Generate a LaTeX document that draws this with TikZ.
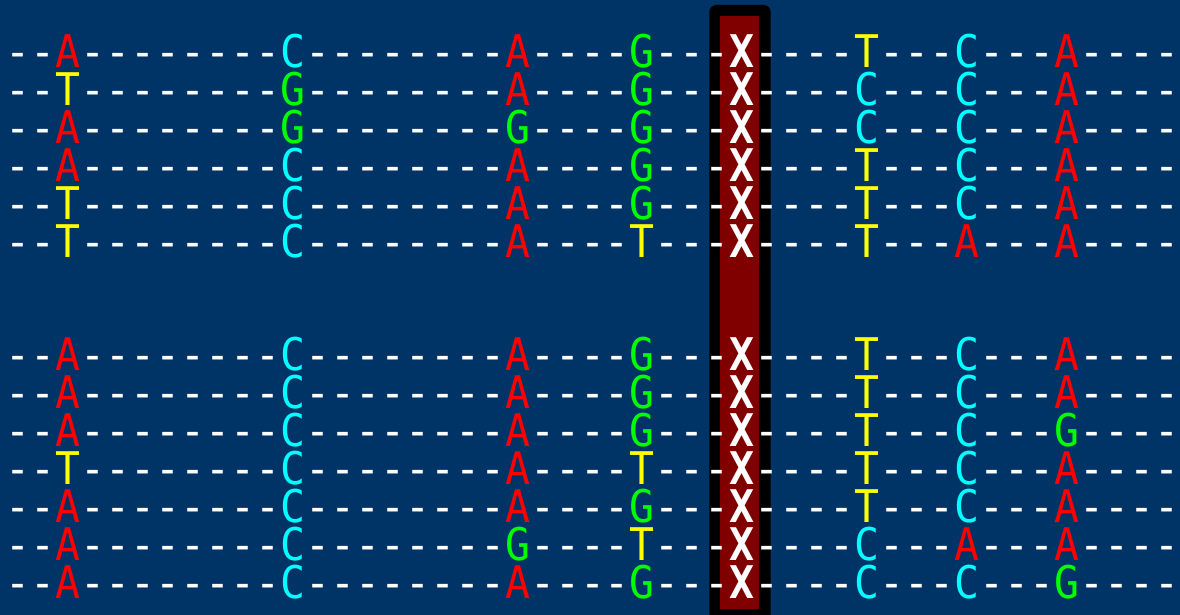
\documentclass[tikz,border=0pt]{standalone}
\usepackage{fontspec}
\newfontfamily\seqfont[FakeStretch=0.922,BoldFont={DejaVu Sans Mono Bold}]{DejaVu Sans Mono}
\definecolor{bgblue}{HTML}{003366}
\definecolor{barred}{HTML}{800000}
\definecolor{nucA}{HTML}{FF0000}
\definecolor{nucC}{HTML}{00FFFF}
\definecolor{nucG}{HTML}{00FF00}
\definecolor{nucT}{HTML}{FFFF00}
\newcommand\dsh{\mbox{-}}
\newcommand\dII{\dsh\dsh}
\newcommand\dIII{\dsh\dsh\dsh}
\newcommand\dIV{\dII\dII}
\newcommand\dVIII{\dIV\dIV}
\newcommand\nuc[1]{\textcolor{nuc#1}{#1}}
\newcommand\seqrow[7]{\dII\nuc{#1}\dVIII\nuc{#2}\dVIII\nuc{#3}\dIV\nuc{#4}\dIII{\bfseries X}\dIV\nuc{#5}\dIII\nuc{#6}\dIII\nuc{#7}\dIV}
\tikzset{
  seqline/.style={anchor=base west, inner sep=0pt, outer sep=0pt, text=white,
    font=\fontsize{45}{45}\selectfont\seqfont},
  barframe/.style={fill=black, rounded corners=7pt},
  barfill/.style={fill=barred}
}
\begin{document}
\begin{tikzpicture}[x=1pt,y=1pt]
\useasboundingbox (0,0) rectangle (1180,615);
\clip (0,0) rectangle (1180,615);
\fill[bgblue] (0,0) rectangle (1180,615);
\fill[barframe] (709.3,-12) rectangle (770.7,610);
\fill[barfill] (720,5.7) rectangle (759.3,599);
\def\rowy#1{615-67.6-37.91*#1}
\node[seqline] (r0)  at (5.5,{\rowy{0}})  {\seqrow{A}{C}{A}{G}{T}{C}{A}};
\node[seqline] (r1)  at (5.5,{\rowy{1}})  {\seqrow{T}{G}{A}{G}{C}{C}{A}};
\node[seqline] (r2)  at (5.5,{\rowy{2}})  {\seqrow{A}{G}{G}{G}{C}{C}{A}};
\node[seqline] (r3)  at (5.5,{\rowy{3}})  {\seqrow{A}{C}{A}{G}{T}{C}{A}};
\node[seqline] (r4)  at (5.5,{\rowy{4}})  {\seqrow{T}{C}{A}{G}{T}{C}{A}};
\node[seqline] (r5)  at (5.5,{\rowy{5}})  {\seqrow{T}{C}{A}{T}{T}{A}{A}};
\node[seqline] (r8)  at (5.5,{\rowy{8}})  {\seqrow{A}{C}{A}{G}{T}{C}{A}};
\node[seqline] (r9)  at (5.5,{\rowy{9}})  {\seqrow{A}{C}{A}{G}{T}{C}{A}};
\node[seqline] (r10) at (5.5,{\rowy{10}}) {\seqrow{A}{C}{A}{G}{T}{C}{G}};
\node[seqline] (r11) at (5.5,{\rowy{11}}) {\seqrow{T}{C}{A}{T}{T}{C}{A}};
\node[seqline] (r12) at (5.5,{\rowy{12}}) {\seqrow{A}{C}{A}{G}{T}{C}{A}};
\node[seqline] (r13) at (5.5,{\rowy{13}}) {\seqrow{A}{C}{G}{T}{C}{A}{A}};
\node[seqline] (r14) at (5.5,{\rowy{14}}) {\seqrow{A}{C}{A}{G}{C}{C}{G}};
\end{tikzpicture}
\end{document}
